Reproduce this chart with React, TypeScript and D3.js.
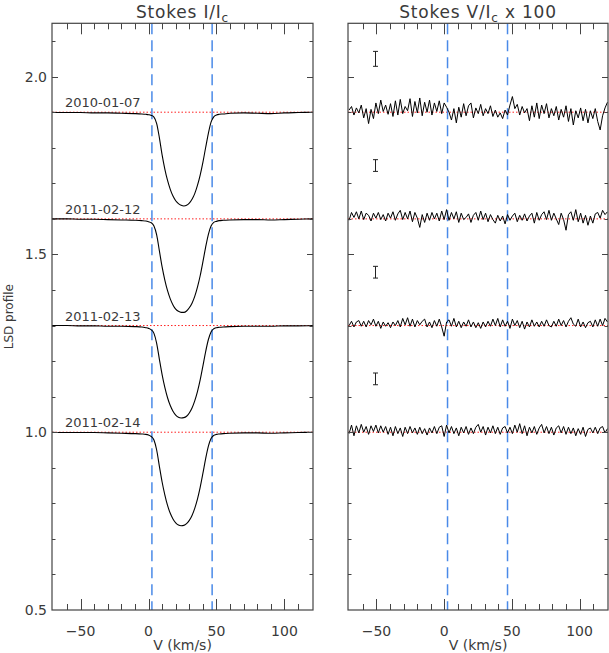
import React from 'react';
import * as d3 from 'd3';

const DATES = ['2010-01-07', '2011-02-12', '2011-02-13', '2011-02-14'];
const OFFSETS = [1.9, 1.6, 1.3, 1.0];

// Stokes I: velocity grid (km/s) and depth relative to continuum
const VEL_I = [-71, -60, -50, -40, -30, -20, -10, -5, -2, 0, 2, 4, 6, 8, 10, 12, 14, 16, 18, 20, 22, 24, 26, 28, 30, 32, 34, 36, 38, 40, 42, 44, 46, 48, 50, 52, 55, 60, 70, 80, 90, 100, 110, 121];
const I_2010_01_07 = [0.000, -0.001, -0.001, -0.002, -0.002, -0.003, -0.004, -0.005, -0.006, -0.007, -0.009, -0.014, -0.032, -0.072, -0.120, -0.160, -0.192, -0.217, -0.236, -0.249, -0.257, -0.262, -0.264, -0.262, -0.256, -0.245, -0.229, -0.206, -0.177, -0.141, -0.100, -0.060, -0.028, -0.013, -0.008, -0.006, -0.005, -0.003, -0.002, -0.003, -0.004, -0.002, -0.001, 0.000];
const I_2011_02_12 = [0.000, 0.000, -0.001, -0.001, -0.002, -0.003, -0.004, -0.005, -0.006, -0.008, -0.011, -0.020, -0.045, -0.090, -0.135, -0.172, -0.202, -0.225, -0.242, -0.254, -0.260, -0.263, -0.263, -0.259, -0.250, -0.237, -0.218, -0.192, -0.160, -0.121, -0.080, -0.044, -0.020, -0.010, -0.007, -0.005, -0.004, -0.003, -0.002, -0.002, -0.003, -0.002, -0.001, 0.000];
const I_2011_02_13 = [0.000, 0.000, -0.001, -0.001, -0.002, -0.002, -0.003, -0.004, -0.006, -0.008, -0.012, -0.022, -0.050, -0.095, -0.138, -0.174, -0.203, -0.225, -0.241, -0.252, -0.258, -0.260, -0.259, -0.255, -0.246, -0.232, -0.212, -0.186, -0.153, -0.114, -0.074, -0.040, -0.018, -0.009, -0.006, -0.005, -0.004, -0.003, -0.002, -0.002, -0.002, -0.001, -0.001, 0.000];
const I_2011_02_14 = [0.000, -0.001, -0.001, -0.001, -0.002, -0.003, -0.004, -0.005, -0.006, -0.008, -0.012, -0.022, -0.050, -0.096, -0.140, -0.176, -0.206, -0.228, -0.244, -0.255, -0.261, -0.263, -0.262, -0.257, -0.248, -0.234, -0.214, -0.188, -0.155, -0.116, -0.075, -0.040, -0.018, -0.009, -0.006, -0.005, -0.004, -0.003, -0.002, -0.002, -0.003, -0.002, -0.001, 0.000];
const I_SERIES = [I_2010_01_07, I_2011_02_12, I_2011_02_13, I_2011_02_14];

// Stokes V: LSD pixel grid start/step (km/s) and values relative to offset
const V_START = -70.2;
const V_STEP = 1.8;
const V_2010_01_07 = [
  0.006, 0.016, -0.008, 0.012, -0.002, 0.020, -0.016, 0.010, -0.032, 0.008,
  -0.018, 0.026, -0.004, 0.034, 0.002, 0.020, -0.006, 0.024, -0.012, 0.032,
  -0.008, 0.036, -0.004, 0.016, 0.004, 0.038, -0.012, 0.030, -0.002, 0.040,
  -0.010, 0.028, 0.000, 0.034, -0.008, 0.026, 0.002, 0.032, -0.004, 0.026,
  0.014, 0.000, -0.022, 0.010, -0.030, 0.014, -0.014, 0.024, -0.010, 0.018,
  0.026, -0.016, 0.012, -0.004, 0.022, -0.010, 0.010, -0.004, 0.018, -0.012,
  0.006, -0.014, -0.002, -0.018, 0.006, -0.008, 0.020, 0.044, 0.010, 0.022,
  -0.008, 0.016, -0.002, 0.010, -0.024, 0.018, -0.014, 0.026, -0.018, 0.020,
  -0.004, 0.024, -0.016, 0.010, -0.010, 0.016, -0.022, 0.008, -0.014, 0.018,
  -0.026, 0.010, -0.036, 0.004, -0.016, 0.012, -0.024, 0.008, -0.030, 0.004,
  -0.018, 0.010, -0.026, -0.050, -0.010, 0.012, 0.028,
];
const V_2011_02_12 = [
  -0.004, 0.018, 0.004, 0.020, 0.000, 0.022, -0.002, 0.016, 0.010, -0.006,
  0.016, 0.002, 0.018, -0.002, 0.012, -0.006, 0.016, 0.002, 0.020, -0.004,
  0.014, 0.024, -0.002, 0.018, 0.000, 0.022, -0.008, 0.018, 0.002, -0.024,
  0.012, -0.010, 0.016, -0.004, 0.018, 0.000, 0.016, -0.006, 0.022, -0.002,
  0.026, -0.004, 0.018, 0.000, 0.020, -0.010, 0.016, -0.002, 0.004, 0.014,
  -0.010, 0.010, 0.018, -0.004, 0.022, -0.002, 0.016, -0.008, 0.012, -0.002,
  -0.012, 0.010, -0.006, 0.008, -0.014, 0.012, -0.004, 0.008, 0.016, -0.008,
  0.010, -0.004, 0.014, -0.006, 0.008, 0.016, -0.012, 0.018, -0.004, 0.012,
  0.020, -0.002, 0.024, -0.004, 0.016, 0.000, -0.016, 0.016, -0.002, -0.032,
  0.012, 0.020, -0.004, 0.026, -0.008, 0.016, -0.012, 0.010, -0.018, 0.008,
  -0.012, 0.014, 0.018, 0.002, 0.024, 0.012, 0.020,
];
const V_2011_02_13 = [
  0.000, 0.012, -0.004, 0.010, 0.014, -0.002, 0.012, -0.004, 0.014, 0.002,
  0.018, -0.002, 0.012, -0.008, 0.010, -0.002, 0.008, -0.006, 0.010, 0.000,
  0.014, -0.004, 0.020, 0.002, 0.022, -0.002, 0.018, -0.004, 0.014, 0.002,
  0.012, 0.018, -0.004, 0.010, -0.006, 0.014, -0.002, 0.018, -0.004, -0.030,
  0.010, 0.016, -0.002, 0.020, -0.004, 0.012, -0.006, 0.010, -0.002, 0.016,
  -0.004, 0.010, -0.006, 0.008, -0.008, 0.010, -0.004, 0.012, -0.002, 0.018,
  0.000, 0.020, -0.004, 0.016, -0.002, 0.012, -0.008, 0.018, 0.000, 0.014,
  -0.006, 0.012, -0.010, 0.010, -0.004, 0.016, -0.002, 0.010, -0.004, 0.012,
  -0.002, 0.016, 0.000, -0.004, 0.012, -0.002, 0.018, 0.000, 0.014, -0.004,
  0.012, 0.022, 0.004, -0.002, 0.018, -0.004, 0.010, -0.006, 0.008, 0.012,
  -0.004, 0.016, -0.002, 0.018, 0.000, 0.020, 0.010,
];
const V_2011_02_14 = [
  -0.004, 0.020, -0.010, 0.018, -0.002, 0.022, 0.000, 0.016, -0.006, 0.018,
  0.002, 0.020, -0.002, 0.018, 0.000, 0.016, -0.006, 0.014, -0.010, 0.016,
  -0.004, 0.012, -0.012, 0.014, -0.004, 0.016, -0.002, 0.012, -0.006, 0.014,
  -0.004, 0.010, -0.008, 0.012, -0.002, 0.016, -0.004, 0.014, 0.018, -0.012,
  0.020, -0.002, 0.016, -0.004, 0.012, -0.010, 0.014, -0.002, 0.016, -0.006,
  0.012, -0.004, 0.014, 0.022, 0.000, 0.016, -0.008, 0.014, -0.002, 0.018,
  -0.004, 0.014, -0.006, 0.012, 0.016, -0.002, 0.014, -0.004, 0.020, 0.000,
  0.024, -0.004, 0.018, -0.010, 0.014, -0.002, 0.016, -0.006, 0.012, 0.022,
  -0.002, 0.016, -0.004, 0.014, -0.008, 0.012, 0.018, -0.002, 0.016, -0.006,
  0.014, -0.004, 0.012, -0.010, 0.010, -0.006, 0.014, -0.012, 0.008, 0.012,
  -0.002, 0.014, -0.004, 0.012, 0.016, -0.002, 0.010,
];
const V_SERIES = [V_2010_01_07, V_2011_02_12, V_2011_02_13, V_2011_02_14];

// Error bars in the V panel
const ERR_VEL = -51;
const ERR_CENTER = [2.05, 1.75, 1.45, 1.15];
const ERR_HALF = [0.021, 0.0165, 0.0165, 0.0165];

// Reference velocities (dashed lines)
const DASH_VEL = [2.5, 46.8];

const X_DOMAIN = [-71, 121];
const Y_DOMAIN = [0.5, 2.15];
const X_MAJOR = [-50, 0, 50, 100];
const X_LABELS = ['\u221250', '0', '50', '100'];
const Y_MAJOR = [0.5, 1.0, 1.5, 2.0];
const Y_LABELS = ['0.5', '1.0', '1.5', '2.0'];

const FONT = '"DejaVu Sans", "Liberation Sans", Arial, sans-serif';
const AXIS = '#444';
const TEXT = '#3a3a3a';
const BLUE = '#4a8ae8';

const TOP = 23.3;
const BOTTOM = 610;
const PANELS = [
  { left: 52, right: 313 },
  { left: 348, right: 608 },
];

function Frame({ x, y, showY }: { x: d3.ScaleLinear<number, number>; y: d3.ScaleLinear<number, number>; showY: boolean }) {
  const [l, r] = x.range();
  const minorX = d3.range(-70, 121, 10).filter((v) => x(v) > l + 2 && x(v) < r - 2);
  const minorY = d3.range(6, 22).map((k) => k / 10);
  const isMajorX = (v: number) => X_MAJOR.includes(v);
  const isMajorY = (v: number) => Y_MAJOR.some((m) => Math.abs(m - v) < 1e-6);
  return (
    <g>
      {minorX.map((v) => {
        const len = isMajorX(v) ? 11 : 6;
        const px = Math.round(x(v)) + 0.5;
        return (
          <g key={'xt' + v}>
            <line x1={px} x2={px} y1={BOTTOM} y2={BOTTOM - len} stroke={AXIS} strokeWidth={1} />
            <line x1={px} x2={px} y1={TOP} y2={TOP + len} stroke={AXIS} strokeWidth={1} />
          </g>
        );
      })}
      {minorY.map((v) => {
        const len = isMajorY(v) ? 6 : 3.5;
        const py = Math.round(y(v)) + 0.5;
        return (
          <g key={'yt' + v}>
            <line x1={l} x2={l + len} y1={py} y2={py} stroke={AXIS} strokeWidth={1} />
            <line x1={r} x2={r - len} y1={py} y2={py} stroke={AXIS} strokeWidth={1} />
          </g>
        );
      })}
      <rect x={l} y={TOP} width={r - l} height={BOTTOM - TOP} fill="none" stroke={AXIS} strokeWidth={1.2} />
      {X_MAJOR.map((v, i) => (
        <text key={'xl' + v} x={x(v)} y={636} textAnchor="middle" fontSize={14} fill={TEXT} fontFamily={FONT}>
          {X_LABELS[i]}
        </text>
      ))}
      <text x={(l + r) / 2} y={650} textAnchor="middle" fontSize={14} fill={TEXT} fontFamily={FONT}>
        V (km/s)
      </text>
      {showY &&
        Y_MAJOR.map((v, i) => (
          <text key={'yl' + v} x={l - 5} y={y(v) + 5} textAnchor="end" fontSize={14} fill={TEXT} fontFamily={FONT}>
            {Y_LABELS[i]}
          </text>
        ))}
    </g>
  );
}

export default function App() {
  const y = d3.scaleLinear().domain(Y_DOMAIN).range([BOTTOM, TOP]);
  const xI = d3.scaleLinear().domain(X_DOMAIN).range([PANELS[0].left, PANELS[0].right]);
  const xV = d3.scaleLinear().domain(X_DOMAIN).range([PANELS[1].left, PANELS[1].right]);

  const lineI = (vals: number[], off: number) =>
    d3
      .line<number>()
      .x((_, i) => xI(VEL_I[i]))
      .y((d) => y(off + d))
      .curve(d3.curveMonotoneX)(vals) || '';
  const lineV = (vals: number[], off: number) =>
    d3
      .line<number>()
      .x((_, i) => xV(V_START + i * V_STEP))
      .y((d) => y(off + d))(vals) || '';

  const clipI = 'clipI';
  const clipV = 'clipV';

  return (
    <svg
      width={609}
      height={653}
      style={{ position: 'absolute', left: 0, top: 0, background: '#fff' }}
      xmlns="http://www.w3.org/2000/svg"
    >
      <defs>
        <clipPath id={clipI}>
          <rect x={PANELS[0].left} y={TOP} width={PANELS[0].right - PANELS[0].left} height={BOTTOM - TOP} />
        </clipPath>
        <clipPath id={clipV}>
          <rect x={PANELS[1].left} y={TOP} width={PANELS[1].right - PANELS[1].left} height={BOTTOM - TOP} />
        </clipPath>
      </defs>
      <rect x={0} y={0} width={609} height={653} fill="#fff" />

      {/* Titles */}
      <text x={(PANELS[0].left + PANELS[0].right) / 2} y={18} textAnchor="middle" fontSize={17} fill={TEXT} fontFamily={FONT} letterSpacing={0.8}>
        Stokes I/I
        <tspan fontSize={12} dy={4}>c</tspan>
      </text>
      <text x={(PANELS[1].left + PANELS[1].right) / 2} y={18} textAnchor="middle" fontSize={17} fill={TEXT} fontFamily={FONT} letterSpacing={0.8}>
        Stokes V/I
        <tspan fontSize={12} dy={4}>c</tspan>
        <tspan dy={-4}> x 100</tspan>
      </text>
      <text
        transform={`translate(13,${(TOP + BOTTOM) / 2}) rotate(-90)`}
        textAnchor="middle"
        fontSize={12}
        fill={TEXT}
        fontFamily={FONT}
      >
        LSD profile
      </text>

      {/* Stokes I panel */}
      <g clipPath={`url(#${clipI})`}>
        {OFFSETS.map((o) => (
          <line key={'ri' + o} x1={PANELS[0].left} x2={PANELS[0].right} y1={y(o)} y2={y(o)} stroke="#ff2020" strokeWidth={1} strokeDasharray="1.5,2" />
        ))}
        {DASH_VEL.map((v) => (
          <line key={'bi' + v} x1={xI(v)} x2={xI(v)} y1={TOP} y2={BOTTOM} stroke={BLUE} strokeWidth={1.5} strokeDasharray="11,6" />
        ))}
        {I_SERIES.map((s, i) => (
          <path key={'pi' + i} d={lineI(s, OFFSETS[i])} fill="none" stroke="#000" strokeWidth={1.1} />
        ))}
      </g>
      {DATES.map((d, i) => (
        <text key={'d' + d} x={65} y={y(OFFSETS[i]) - 5} fontSize={13} fill={TEXT} fontFamily={FONT}>
          {d}
        </text>
      ))}

      {/* Stokes V panel */}
      <g clipPath={`url(#${clipV})`}>
        {OFFSETS.map((o) => (
          <line key={'rv' + o} x1={PANELS[1].left} x2={PANELS[1].right} y1={y(o)} y2={y(o)} stroke="#ff2020" strokeWidth={1} strokeDasharray="1.5,2" />
        ))}
        {DASH_VEL.map((v) => (
          <line key={'bv' + v} x1={xV(v)} x2={xV(v)} y1={TOP} y2={BOTTOM} stroke={BLUE} strokeWidth={1.5} strokeDasharray="11,6" />
        ))}
        {V_SERIES.map((s, i) => (
          <path key={'pv' + i} d={lineV(s, OFFSETS[i])} fill="none" stroke="#000" strokeWidth={1} />
        ))}
        {ERR_CENTER.map((c, i) => {
          const px = Math.round(xV(ERR_VEL)) + 0.5;
          const y1 = y(c - ERR_HALF[i]);
          const y2 = y(c + ERR_HALF[i]);
          return (
            <g key={'e' + i} stroke="#222" strokeWidth={1}>
              <line x1={px} x2={px} y1={y1} y2={y2} />
              <line x1={px - 2.5} x2={px + 2.5} y1={y1} y2={y1} />
              <line x1={px - 2.5} x2={px + 2.5} y1={y2} y2={y2} />
            </g>
          );
        })}
      </g>

      <Frame x={xI} y={y} showY={true} />
      <Frame x={xV} y={y} showY={false} />
    </svg>
  );
}
